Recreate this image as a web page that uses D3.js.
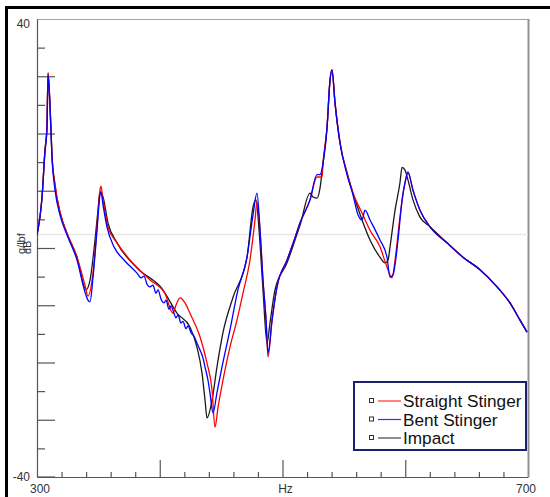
<!DOCTYPE html>
<html><head><meta charset="utf-8">
<script src="https://cdn.jsdelivr.net/npm/d3@7"></script>
<style>body{margin:0;background:#fff}svg{display:block}text{font-family:"Liberation Sans",Arial,sans-serif}</style>
</head><body><svg id="c" width="550" height="497"></svg>
<script>
// ---- data ----
const seriesNames = ["Straight Stinger", "Bent Stinger", "Impact"];
const seriesColors = ["#ff0000", "#0000ff", "#1a1a1a"];
const legendLineColors = ["#ff3030", "#3030ff", "#444444"];

const straightHz = [300.0,304.1,306.5,308.1,309.0,310.6,312.2,314.7,318.7,324.4,332.6,339.1,341.5,345.6,348.9,351.3,352.1,353.8,357.8,365.2,375.8,392.1,404.3,410.8,413.2,416.5,420.6,424.6,432.8,438.5,442.6,445.0,447.5,451.5,457.2,462.9,467.8,473.5,477.6,479.2,481.7,484.1,486.6,488.2,491.5,495.5,503.7,510.2,514.3,522.4,528.1,532.2,533.0,536.3,538.7,540.3,542.8,546.9,552.6,557.4,564.8,571.3,579.4,585.1,589.2,591.7,595.7,599.8,602.2,606.3,612.0,620.2,634.0,647.0,660.9,674.8,685.3,693.5,699.2];
const straightDb = [2.3,8.9,17.1,21.1,30.6,25.0,16.2,11.0,6.3,2.6,-1.6,-6.5,-8.4,-4.4,3.7,10.1,10.8,8.4,3.7,0.9,-2.1,-5.6,-8.0,-11.4,-10.0,-8.7,-9.6,-11.4,-15.5,-20.1,-24.8,-31.3,-27.8,-23.1,-17.3,-12.6,-7.9,-2.1,4.9,8.0,3.1,-5.6,-12.6,-19.0,-12.6,-6.8,-2.1,1.8,4.4,8.4,12.4,12.4,14.8,21.1,29.3,31.1,25.3,18.3,13.1,9.6,6.1,3.1,0.2,-3.3,-5.2,-2.1,5.4,11.4,13.1,10.1,6.6,3.7,0.9,-1.6,-3.8,-6.8,-9.6,-12.6,-14.7];

const bentHz = [300.0,304.1,306.5,308.1,309.0,310.6,312.2,314.7,318.7,324.4,332.6,339.1,341.5,343.2,345.6,348.9,351.3,352.1,353.8,357.0,362.7,370.9,381.5,384.7,387.2,389.6,392.1,394.5,396.9,398.6,401.0,403.5,405.1,407.5,409.2,411.6,413.2,414.9,417.3,418.9,421.4,423.0,425.5,427.9,430.3,432.8,435.2,436.9,439.3,440.9,443.4,446.6,450.7,457.2,463.7,471.1,476.0,479.2,481.7,484.1,486.6,488.2,491.5,495.5,503.7,510.2,514.3,522.4,528.1,530.6,533.0,536.3,538.7,540.3,542.8,546.9,552.6,557.4,561.5,564.8,567.2,571.3,579.4,585.1,587.6,590.0,594.1,597.4,599.8,602.2,606.3,612.0,620.2,634.0,647.0,660.9,674.8,685.3,693.5,699.2];
const bentDb = [2.3,8.9,16.8,20.6,30.2,24.6,15.9,10.1,5.8,2.3,-2.1,-7.7,-9.1,-9.4,-5.2,3.1,9.3,9.8,7.5,3.7,0.2,-2.1,-4.4,-5.2,-4.9,-6.3,-6.8,-6.5,-7.9,-7.3,-8.9,-9.6,-9.1,-10.7,-10.1,-11.4,-12.2,-11.7,-13.1,-12.8,-14.1,-13.6,-14.8,-15.4,-16.6,-17.8,-19.2,-20.8,-23.1,-25.3,-28.8,-25.3,-20.8,-14.3,-7.3,-1.6,5.8,9.6,3.1,-5.6,-12.6,-18.3,-12.6,-6.8,-2.1,1.8,4.4,8.4,12.8,12.8,14.8,21.1,29.3,31.1,25.3,18.3,12.8,9.3,5.8,4.9,6.6,4.9,1.4,-1.6,-5.1,-4.7,1.4,8.4,11.4,13.3,10.1,6.6,3.7,0.9,-1.6,-3.8,-6.8,-9.6,-12.6,-14.7];

const impactHz = [300.0,304.1,306.5,308.1,309.0,310.6,312.2,314.7,318.7,324.4,332.6,339.9,343.2,346.4,349.7,351.3,353.8,357.8,365.2,381.5,402.6,414.1,424.6,430.3,434.4,436.9,438.5,442.6,446.6,451.5,459.7,471.1,476.0,478.4,480.9,484.1,487.4,489.8,493.9,503.7,510.2,514.3,522.4,524.9,528.1,530.6,533.0,536.3,538.7,540.3,542.8,546.9,552.6,557.4,564.8,571.3,579.4,583.5,586.0,587.6,591.7,595.7,597.4,599.8,602.2,606.3,612.0,620.2,634.0,647.0,660.9,674.8,685.3,693.5,699.2];
const impactDb = [2.3,8.9,17.1,21.1,30.6,25.0,16.2,11.0,6.3,2.6,-1.6,-7.3,-5.6,-0.3,6.6,9.8,8.9,4.4,0.9,-3.5,-7.3,-11.4,-13.8,-17.3,-21.8,-26.6,-29.7,-26.6,-20.8,-14.8,-8.6,-1.6,7.2,8.4,3.1,-7.3,-16.6,-13.1,-7.3,-2.6,1.4,4.0,9.6,8.9,8.7,10.5,14.8,21.1,29.3,31.1,25.3,18.3,13.1,9.6,4.9,1.4,-1.6,-2.6,-2.1,0.2,6.6,11.4,14.1,13.6,11.9,8.4,5.4,3.7,0.9,-1.6,-3.8,-6.8,-9.6,-12.6,-14.7];

const xDomain = [300, 700];
const yDomain = [-40, 40];
const xMajorTicks = [400, 500, 600];
const xMinorTicks = [320,340,360,380,420,440,460,480,520,540,560,580,620,640,660,680];
const yMajorTicks = [-30,-20,-10,0,10,20,30];
const yMinorTicks = [-35,-25,-15,-5,5,15,25,35];
const refLineDb = 2.4;
const xLabels = ["300", "Hz", "700"];
const yLabels = ["40", "-40"];
const yUnitLabels = ["g/lbf", "dB"];

// ---- drawing ----
const svg = d3.select("#c");
const L = 37, R = 528, T = 19, B = 477;
const x = d3.scaleLinear(xDomain, [L, R]);
const y = d3.scaleLinear(yDomain, [B, T]);

// outer frame
svg.append("rect").attr("x", 5).attr("y", 6).attr("width", 545).attr("height", 3).attr("fill", "#000");
svg.append("rect").attr("x", 5).attr("y", 6).attr("width", 3).attr("height", 491).attr("fill", "#000");

// plot frame
svg.append("line").attr("x1", L).attr("x2", R).attr("y1", T + 0.5).attr("y2", T + 0.5).attr("stroke", "#a0a0a0");
svg.append("line").attr("x1", R + 0.5).attr("x2", R + 0.5).attr("y1", T).attr("y2", B).attr("stroke", "#909090").attr("stroke-width", 2);

// reference line
svg.append("line").attr("x1", L).attr("x2", R).attr("y1", Math.round(y(refLineDb)) + 0.5).attr("y2", Math.round(y(refLineDb)) + 0.5)
  .attr("stroke", "#e6e6e6").attr("stroke-width", 1.5);

function styleAxis(g) {
  g.select(".domain").attr("stroke", "#555").attr("stroke-width", 1.2);
  g.selectAll(".tick line").attr("stroke", "#555").attr("stroke-width", 1.2);
}
// y axis
svg.append("g").attr("transform", `translate(${L},0)`)
  .call(d3.axisLeft(y).tickValues(yMajorTicks).tickSize(-18).tickSizeOuter(0).tickFormat(""))
  .call(styleAxis);
svg.append("g").attr("transform", `translate(${L},0)`)
  .call(d3.axisLeft(y).tickValues(yMinorTicks).tickSize(-8).tickSizeOuter(0).tickFormat(""))
  .call(styleAxis).call(g => g.select(".domain").remove());
svg.append("line").attr("x1", L).attr("x2", L + 18).attr("y1", B).attr("y2", B).attr("stroke", "#555").attr("stroke-width", 1.2);
// x axis
svg.append("g").attr("transform", `translate(0,${B})`)
  .call(d3.axisBottom(x).tickValues(xMajorTicks).tickSize(-17).tickSizeOuter(0).tickFormat(""))
  .call(styleAxis);
svg.append("g").attr("transform", `translate(0,${B})`)
  .call(d3.axisBottom(x).tickValues(xMinorTicks).tickSize(-5).tickSizeOuter(0).tickFormat(""))
  .call(styleAxis).call(g => g.select(".domain").remove());

// axis labels
function t(txt, xx, yy, anchor) {
  return svg.append("text").attr("x", xx).attr("y", yy).attr("text-anchor", anchor)
    .attr("fill", "#333").attr("font-size", "12px").text(txt);
}
t(yLabels[0], 30, 28, "end");
t(yLabels[1], 30, 481, "end");
t(xLabels[0], x(xDomain[0]) + 3, 493, "middle");
t(xLabels[1], x(500) + 3, 493, "middle");
t(xLabels[2], x(xDomain[1]) - 2, 493, "middle");
svg.append("text").attr("transform", "translate(25,254) rotate(-90)").attr("font-size", "11px").attr("fill", "#333").text(yUnitLabels[0]);
svg.append("text").attr("transform", "translate(31,254) rotate(-90)").attr("font-size", "11px").attr("fill", "#333").text(yUnitLabels[1]);

// series
const series = [
  { name: seriesNames[2], hz: impactHz, db: impactDb, color: seriesColors[2] },
  { name: seriesNames[0], hz: straightHz, db: straightDb, color: seriesColors[0] },
  { name: seriesNames[1], hz: bentHz, db: bentDb, color: seriesColors[1] },
];
const line = d3.line().x(d => x(d[0])).y(d => y(d[1])).curve(d3.curveMonotoneX);
svg.append("clipPath").attr("id", "clp").append("rect").attr("x", L).attr("y", T).attr("width", R - L).attr("height", B - T);
series.forEach(s => {
  svg.append("path").datum(d3.zip(s.hz, s.db)).attr("d", line)
    .attr("fill", "none").attr("stroke", s.color).attr("stroke-width", 1.3)
    .attr("clip-path", "url(#clp)");
});

// legend
const lg = svg.append("g");
lg.append("rect").attr("x", 354).attr("y", 382).attr("width", 172).attr("height", 68)
  .attr("fill", "#fff").attr("stroke", "#1f1f70").attr("stroke-width", 2);
seriesNames.forEach((n, i) => {
  const cy = 401 + i * 18.5;
  lg.append("rect").attr("x", 369.5).attr("y", cy - 2.5).attr("width", 4).attr("height", 4)
    .attr("fill", "#fff").attr("stroke", "#333").attr("stroke-width", 1);
  lg.append("line").attr("x1", 378).attr("x2", 401).attr("y1", cy).attr("y2", cy)
    .attr("stroke", legendLineColors[i]).attr("stroke-width", 1.2);
  lg.append("text").attr("x", 403).attr("y", cy + 6).attr("font-size", "17.2px").attr("fill", "#111").text(n);
});
</script></body></html>
